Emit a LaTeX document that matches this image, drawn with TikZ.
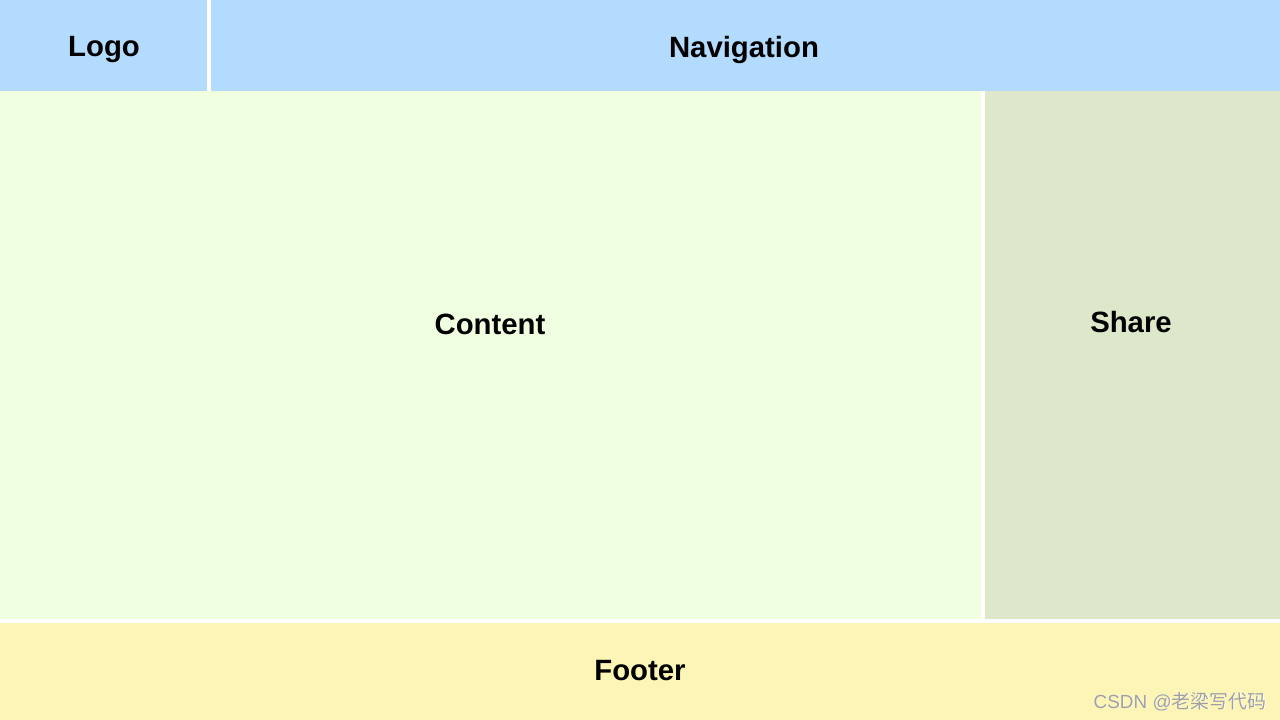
\documentclass[tikz,border=0pt]{standalone}
\usepackage{fontspec}
\setmainfont{Liberation Sans}
\newfontfamily\cjk{Noto Sans CJK SC}
\definecolor{navblue}{HTML}{B3DBFD}
\definecolor{contgreen}{HTML}{F1FFE1}
\definecolor{sharegreen}{HTML}{DCE8C9}
\definecolor{footyellow}{HTML}{FDF5B5}
\definecolor{wmgray}{HTML}{A0A0A0}
\begin{document}
\begin{tikzpicture}[x=0.75pt,y=-0.75pt,
  lbl/.style={font=\fontsize{22pt}{26pt}\selectfont\bfseries, text=black, inner sep=0pt}]
\useasboundingbox (0,0) rectangle (1280,720);
\fill[white] (0,0) rectangle (1280,720);
\fill[navblue] (0,0) rectangle (207,91);
\fill[navblue] (211,0) rectangle (1280,91);
\fill[contgreen] (0,91) rectangle (981,619);
\fill[sharegreen] (985,91) rectangle (1280,619);
\fill[footyellow] (0,623) rectangle (1280,720);
\node[lbl] (logo) at (104,50) {Logo};
\node[lbl] (nav) at (744,50) {Navigation};
\node[lbl] (content) at (490,324) {Content};
\node[lbl] (share) at (1131,322) {Share};
\node[lbl] (footer) at (640,671) {Footer};
\node[font=\fontsize{14.2pt}{16pt}\selectfont, text=white, inner sep=0pt] at (1180.8,702.3) {CSDN @{\cjk 老梁写代码}};
\node[font=\fontsize{14.2pt}{16pt}\selectfont, text=wmgray, inner sep=0pt] (wm) at (1180,701.5) {CSDN @{\cjk 老梁写代码}};
\end{tikzpicture}
\end{document}
